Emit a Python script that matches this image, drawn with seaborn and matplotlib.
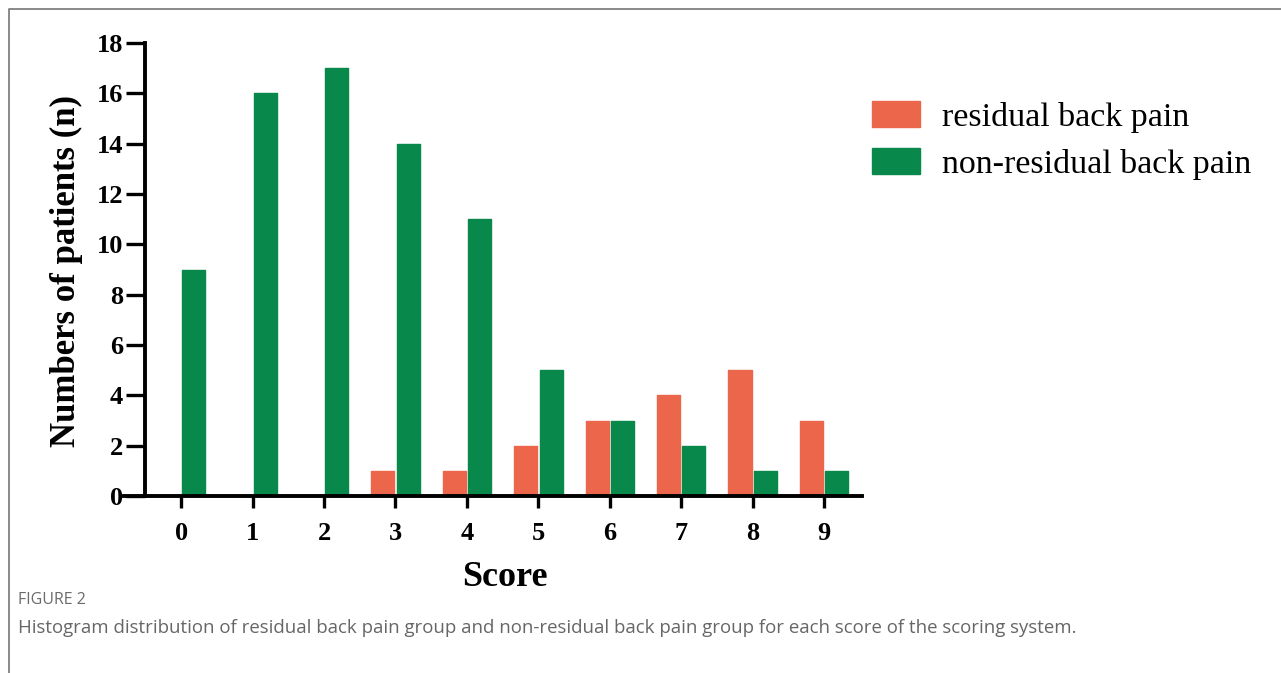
import matplotlib
matplotlib.use("Agg")
import matplotlib.pyplot as plt
import pandas as pd
import seaborn as sns
from matplotlib.lines import Line2D

# values
scores = ["0", "1", "2", "3", "4", "5", "6", "7", "8", "9"]
residual = [0, 0, 0, 1, 1, 2, 3, 4, 5, 3]
non_residual = [9, 16, 17, 14, 11, 5, 3, 2, 1, 1]
groups = ["residual back pain", "non-residual back pain"]
colors = ["#EB664A", "#08894B"]

df = pd.DataFrame({
    "Score": scores * 2,
    "n": residual + non_residual,
    "group": [groups[0]] * len(scores) + [groups[1]] * len(scores),
})

sns.set_style("white")
plt.rcParams.update({"text.color": "black", "axes.labelcolor": "black",
                     "xtick.color": "black", "ytick.color": "black"})
serif = ["Liberation Serif", "DejaVu Serif"]

fig = plt.figure(figsize=(12.81, 6.73), dpi=100)
ax = fig.add_axes([124 / 1281, 177 / 673, 738 / 1281, 453 / 673])

sns.barplot(data=df, x="Score", y="n", hue="group", palette=colors,
            width=0.71, gap=0.09, ax=ax, saturation=1, legend=True)

# slightly rounded bar corners like the original
for p in ax.patches:
    p.set_edgecolor(p.get_facecolor())
    p.set_linewidth(1.0)
    p.set_joinstyle("round")

ax.set_xlim(-0.8, 9.53)
ax.set_ylim(0, 18)
ax.set_yticks(range(0, 19, 2))

for s in ["top", "right"]:
    ax.spines[s].set_visible(False)
ax.spines["left"].set_position(("data", -0.5))
for s in ["left", "bottom"]:
    ax.spines[s].set_linewidth(2.8)
    ax.spines[s].set_color("black")
    ax.spines[s].set_zorder(3)

ax.tick_params(axis="y", length=14, width=2.4, pad=2, direction="out", left=True)
ax.tick_params(axis="x", length=8.5, width=2.4, pad=10, direction="out", bottom=True)
for lab in ax.get_yticklabels() + ax.get_xticklabels():
    lab.set_fontfamily(serif)
    lab.set_fontweight("bold")
    lab.set_fontsize(19)

ax.set_xlabel("Score", fontfamily=serif, fontweight="bold", fontsize=26)
ax.set_ylabel("Numbers of patients (n)", fontfamily=serif, fontweight="bold", fontsize=25)
ax.xaxis.label.set_va("center")
ax.yaxis.label.set_va("center")
ax.xaxis.set_label_coords((505 - 124) / 738, -(578 - 496) / 453)
ax.yaxis.set_label_coords((66 - 124) / 738, (496 - 271) / 453)

ax.legend(loc="upper left", bbox_to_anchor=(872 / 1281, 1 - 100.5 / 673),
          bbox_transform=fig.transFigure, frameon=False, borderpad=0,
          handlelength=1.4, handleheight=0.82, handletextpad=0.65,
          labelspacing=0.45, borderaxespad=0,
          prop={"family": serif, "size": 24.5})

# figure frame and caption
fig.add_artist(Line2D([9 / 1281, 9 / 1281, 1], [0, 1 - 9 / 673, 1 - 9 / 673],
                      transform=fig.transFigure, color="#808080", lw=1.3))
fig.text(18 / 1281, 1 - 600 / 673, "FIGURE 2", fontsize=11.5, color="#6b6b6b",
         family="Open Sans", va="center")
fig.text(18 / 1281, 1 - 628 / 673,
         "Histogram distribution of residual back pain group and non-residual back pain group "
         "for each score of the scoring system.",
         fontsize=13.4, color="#666666", family="Open Sans", va="center")

fig.savefig("out.png", dpi=100)
